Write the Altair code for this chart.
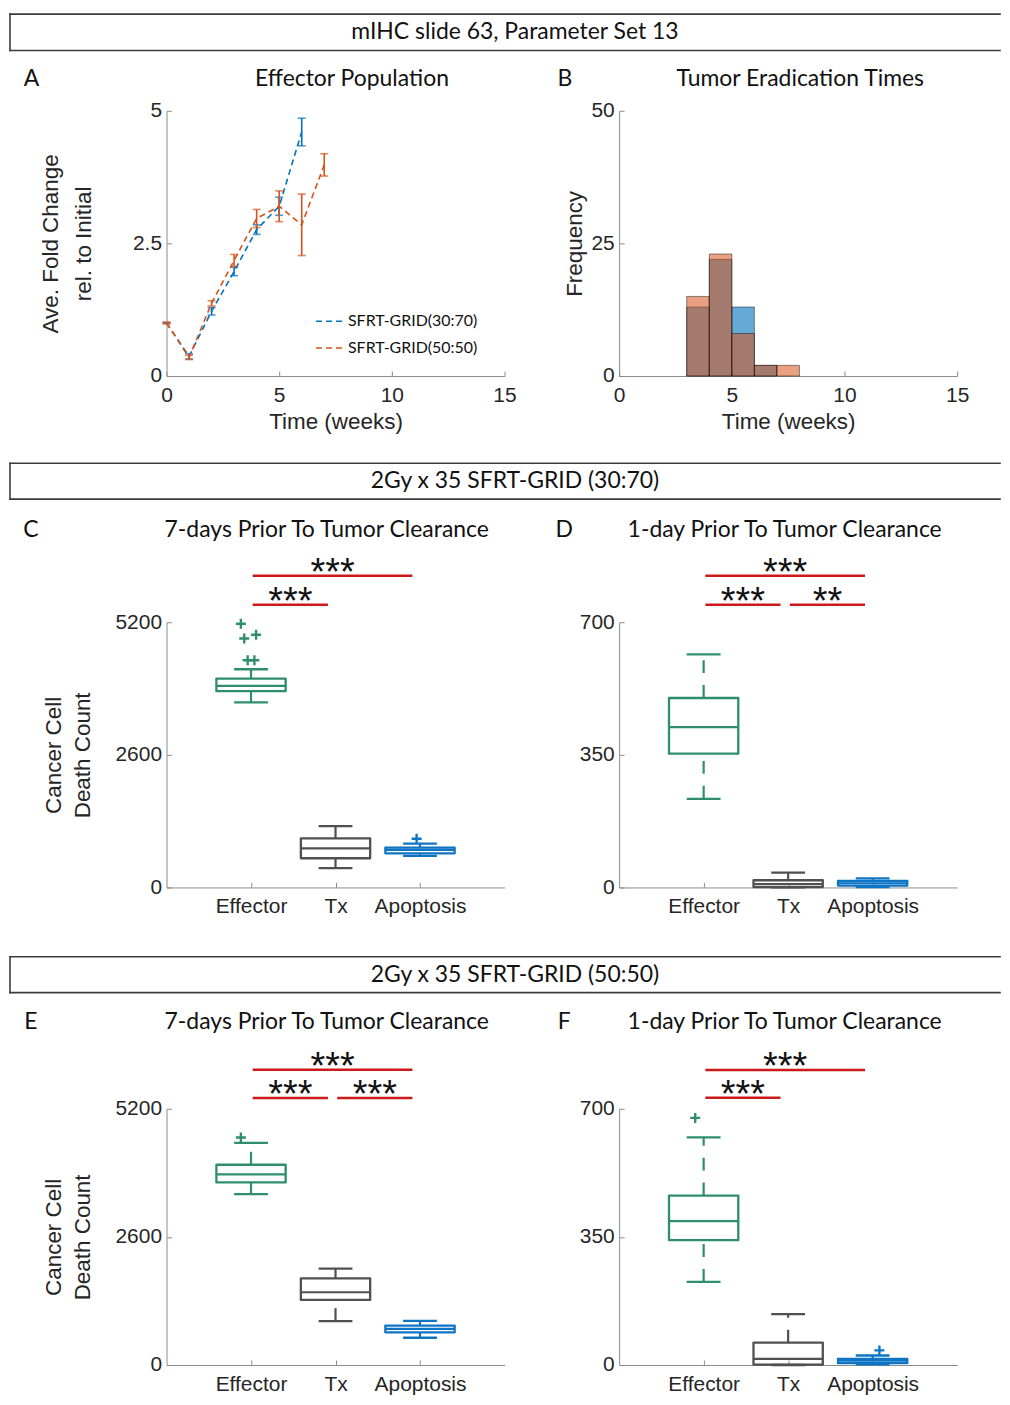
import altair as alt
import pandas as pd

# ---------------- data ----------------
header_texts = ["mIHC slide 63, Parameter Set 13",
                "2Gy x 35 SFRT-GRID (30:70)",
                "2Gy x 35 SFRT-GRID (50:50)"]

# Panel A: effector population (fold change rel. to initial)
series_names = ["SFRT-GRID(30:70)", "SFRT-GRID(50:50)"]
weeks_3070 = [0, 1, 2, 3, 4, 5, 6]
fold_3070 = [1.00, 0.37, 1.22, 1.97, 2.76, 3.20, 4.60]
err_3070 = [0.00, 0.05, 0.07, 0.08, 0.09, 0.17, 0.26]
weeks_5050 = [0, 1, 2, 3, 4, 5, 6, 7]
fold_5050 = [1.00, 0.35, 1.37, 2.18, 2.97, 3.20, 2.85, 3.98]
err_5050 = [0.02, 0.04, 0.05, 0.11, 0.17, 0.29, 0.58, 0.21]

# Panel B: tumor eradication times histogram
bin_edges = [3, 4, 5, 6, 7, 8]
freq_3070 = [13, 22, 13, 2, 0]
freq_5050 = [15, 23, 8, 2, 2]

# Box plots
categories = ["Effector", "Tx", "Apoptosis"]
cat_pos = [1, 2, 3]

# Panel C (30:70, 7 days prior)
c_lower = [3628, 377, 618]
c_q1 = [3849, 572, 670]
c_median = [3953, 767, 735]
c_q3 = [4096, 962, 780]
c_upper = [4278, 1203, 858]
c_out_cat = ["Effector", "Effector", "Effector", "Effector", "Effector", "Apoptosis"]
c_out_x = [0.88, 0.92, 1.06, 0.96, 1.04, 2.96]
c_out_val = [5170, 4880, 4955, 4455, 4455, 956]
c_sig_from = [1, 1]
c_sig_to = [2, 3]
c_sig_level = [5545, 6111]
c_sig_label = ["***", "***"]

# Panel D (30:70, 1 day prior)
d_lower = [234, 0, 1]
d_q1 = [353, 1, 5]
d_median = [423, 9, 11]
d_q3 = [500, 19, 17]
d_upper = [615, 39, 24]
d_out_cat = []
d_out_x = []
d_out_val = []
d_sig_from = [1, 2, 1]
d_sig_to = [2, 3, 3]
d_sig_level = [746, 746, 823]
d_sig_label = ["***", "**", "***"]

# Panel E (50:50, 7 days prior)
e_lower = [3466, 891, 553]
e_q1 = [3706, 1320, 663]
e_median = [3869, 1476, 735]
e_q3 = [4064, 1756, 800]
e_upper = [4506, 1957, 897]
e_out_cat = ["Effector"]
e_out_x = [0.88]
e_out_val = [4616]
e_sig_from = [1, 2, 1]
e_sig_to = [2, 3, 3]
e_sig_level = [5420, 5420, 5990]
e_sig_label = ["***", "***", "***"]

# Panel F (50:50, 1 day prior)
f_lower = [227, 0, 2]
f_q1 = [341, 1, 5]
f_median = [393, 17, 12]
f_q3 = [463, 61, 17]
f_upper = [622, 139, 26]
f_out_cat = ["Effector", "Apoptosis"]
f_out_x = [0.90, 3.08]
f_out_val = [675, 40]
f_sig_from = [1, 1]
f_sig_to = [2, 3]
f_sig_level = [730, 806]
f_sig_label = ["***", "***"]

# ---------------- styling ----------------
SANS = "Liberation Sans"
HUM = "Lato"
BLUE = "#0072BD"
ORANGE = "#D95319"
CAT_COLORS = {"Effector": "#2E8E6C", "Tx": "#505050", "Apoptosis": "#0E74C4"}
RED = "#CC1A1A"
TXT = "#111111"
AX = "#262626"
AXLINE = "#8C8C8C"
PW = 339
BOX_HALF = 0.41
CAP_HALF = 0.20
PLUS = "M-1,0H1M0,-1V1"
HL, HR = -158, 836          # header extent relative to the shared column origin
TFS = 23                    # title font size
EF_H = 257                  # plot height of the last row
LEFT_SP = (-158, 374)       # horizontal extent of left-column panels
RIGHT_SP = (-80, 382)       # horizontal extent of right-column panels

series_scale = alt.Scale(domain=series_names, range=[BLUE, ORANGE])


def one():
    return pd.DataFrame({"s": [0]})


def spacer(x0, x1, y0, y1):
    return alt.Chart(one()).mark_rect(opacity=0).encode(
        x=alt.value(x0), x2=alt.value(x1), y=alt.value(y0), y2=alt.value(y1))


def label_text(text, x, y, size, font=HUM):
    return alt.Chart(pd.DataFrame({"t": [text]})).mark_text(
        font=font, fontSize=size, align="center", baseline="middle", color=TXT
    ).encode(text="t:N", x=alt.value(x), y=alt.value(y))


def header(text, h, top, bottom):
    st = dict(color="#3C3C3C", strokeWidth=1.6, strokeCap="square")
    r_top = alt.Chart(one()).mark_rule(**st).encode(
        x=alt.value(HL + 1), x2=alt.value(HR), y=alt.value(top))
    r_bot = alt.Chart(one()).mark_rule(**st).encode(
        x=alt.value(HL + 1), x2=alt.value(HR), y=alt.value(bottom))
    r_left = alt.Chart(one()).mark_rule(**st).encode(
        x=alt.value(HL + 1), y=alt.value(top), y2=alt.value(bottom))
    return alt.layer(spacer(HL, HR, 0, h), r_top, r_bot, r_left,
                     label_text(text, 349.5, (top + bottom) / 2, TFS)
                     ).properties(width=HR, height=h)


# ---------------- panel A ----------------
df_a = pd.DataFrame({
    "series": [series_names[0]] * len(weeks_3070) + [series_names[1]] * len(weeks_5050),
    "week": weeks_3070 + weeks_5050,
    "fold": fold_3070 + fold_5050,
    "err": err_3070 + err_5050,
})
df_a["lo"] = df_a["fold"] - df_a["err"]
df_a["hi"] = df_a["fold"] + df_a["err"]

xsA = alt.Scale(domain=[0, 15], nice=False)
axA_x = alt.Axis(values=[0, 5, 10, 15], title="Time (weeks)")
ysA = alt.Scale(domain=[0, 5], nice=False)
axA_y = alt.Axis(values=[0, 2.5, 5], format=".2~g", title=["Ave. Fold Change", "rel. to Initial"],
                 titlePadding=37, titleLineHeight=33)
legA = alt.Legend(title=None, orient="none", legendX=157, legendY=203, symbolType="M-3,0H3",
                  symbolSize=100, symbolDash=[6, 4], symbolStrokeWidth=1.5, labelFont=HUM,
                  labelFontSize=16, labelColor=TXT, labelOffset=9, rowPadding=11, padding=0)

layersA = [spacer(*LEFT_SP, -54, 346)]
for s in series_names:
    base = alt.Chart(df_a).transform_filter(alt.datum.series == s)
    ex = alt.X("week:Q", scale=xsA, axis=axA_x)
    layersA.append(base.mark_line(strokeDash=[6, 4], strokeWidth=1.6).encode(
        x=ex, y=alt.Y("fold:Q", scale=ysA, axis=axA_y),
        color=alt.Color("series:N", scale=series_scale, legend=legA)))
    layersA.append(base.mark_rule(strokeWidth=1.6).encode(
        x=ex, y=alt.Y("lo:Q", scale=ysA, axis=axA_y), y2="hi:Q",
        color=alt.Color("series:N", scale=series_scale, legend=None)))
    for f in ["lo", "hi"]:
        layersA.append(base.mark_tick(orient="horizontal", size=8, thickness=1.6).encode(
            x=ex, y=alt.Y(f + ":Q", scale=ysA, axis=axA_y),
            color=alt.Color("series:N", scale=series_scale, legend=None)))
layersA.append(label_text("Effector Population", 186, -32, TFS))
layersA.append(label_text("A", -135.5, -32, TFS))
panel_a = alt.layer(*layersA).properties(width=PW, height=266)

# ---------------- panel B ----------------
df_b = pd.DataFrame({"start": bin_edges[:-1], "end": bin_edges[1:],
                     "f3070": freq_3070, "f5050": freq_5050})
xsB = alt.Scale(domain=[0, 15], nice=False)
axB_x = alt.Axis(values=[0, 5, 10, 15], title="Time (weeks)")
ysB = alt.Scale(domain=[0, 50], nice=False)
axB_y = alt.Axis(values=[0, 25, 50], title="Frequency", titlePadding=4)
layersB = [spacer(*RIGHT_SP, -54, 346)]
for f, col, op in [("f3070", BLUE, 0.6), ("f5050", ORANGE, 0.55)]:
    layersB.append(alt.Chart(df_b).transform_filter(f"datum.{f} > 0").mark_rect(
        fill=col, fillOpacity=op, stroke="#000000", strokeOpacity=0.45, strokeWidth=1
    ).encode(x=alt.X("start:Q", scale=xsB, axis=axB_x), x2="end:Q",
             y=alt.Y(f + ":Q", scale=ysB, axis=axB_y), y2=alt.datum(0)))
layersB.append(label_text("Tumor Eradication Times", 181.7, -32, TFS))
layersB.append(label_text("B", -54.3, -32, TFS))
panel_b = alt.layer(*layersB).properties(width=PW, height=266)


# ---------------- box panels ----------------
def box_panel(letter, title, lower, q1, med, q3, upper, out_cat, out_x, out_val,
              sig_from, sig_to, sig_level, sig_label, ymax, height, ytitle,
              sp, title_x, title_y, letter_x):
    st = pd.DataFrame({"cat": categories, "pos": cat_pos, "lower": lower, "q1": q1,
                       "med": med, "q3": q3, "upper": upper})
    st["col"] = st["cat"].map(CAT_COLORS)
    st["bx0"] = st["pos"] - BOX_HALF
    st["bx1"] = st["pos"] + BOX_HALF
    st["cx0"] = st["pos"] - CAP_HALF
    st["cx1"] = st["pos"] + CAP_HALF
    outl = pd.DataFrame({"ocat": out_cat, "ox": out_x, "oval": out_val})
    outl["col"] = outl["ocat"].map(CAT_COLORS)
    sig = pd.DataFrame({"a": sig_from, "b": sig_to, "level": sig_level, "label": sig_label})
    sig["x1"] = sig["a"] + 0.02
    sig["x2"] = sig["b"] - 0.09
    sig["mid"] = (sig["x1"] + sig["x2"]) / 2

    xs = alt.Scale(domain=[0, 4], nice=False, zero=False)
    lab = "['', " + ", ".join("'" + c + "'" for c in categories) + "][datum.value]"
    ax_x = alt.Axis(values=cat_pos, labelExpr=lab, title=None)
    ys = alt.Scale(domain=[0, ymax], nice=False)
    if ytitle:
        ax_y = alt.Axis(values=[0, ymax // 2, ymax], format="d", title=ytitle,
                        titlePadding=21, titleLineHeight=29)
    else:
        ax_y = alt.Axis(values=[0, ymax // 2, ymax], format="d", title=None)

    def X(f):
        return alt.X(f, scale=xs, axis=ax_x)

    def Y(f):
        return alt.Y(f, scale=ys, axis=ax_y)

    col = alt.Color("col:N", scale=None)
    b = alt.Chart(st)
    layers = [spacer(*sp)]
    layers.append(b.mark_rule(strokeDash=[13, 12], strokeWidth=2.2).encode(
        x=X("pos:Q"), y=Y("q3:Q"), y2="upper:Q", color=col))
    layers.append(b.mark_rule(strokeDash=[13, 12], strokeWidth=2.2).encode(
        x=X("pos:Q"), y=Y("lower:Q"), y2="q1:Q", color=col))
    layers.append(b.mark_rect(fillOpacity=0, strokeWidth=2.3, strokeJoin="round").encode(
        x=X("bx0:Q"), x2="bx1:Q", y=Y("q1:Q"), y2="q3:Q",
        stroke=alt.Stroke("col:N", scale=None)))
    layers.append(b.mark_rule(strokeWidth=2.2).encode(
        x=X("bx0:Q"), x2="bx1:Q", y=Y("med:Q"), color=col))
    for f in ["lower:Q", "upper:Q"]:
        layers.append(b.mark_rule(strokeWidth=2.3).encode(
            x=X("cx0:Q"), x2="cx1:Q", y=Y(f), color=col))
    if len(out_val):
        layers.append(alt.Chart(outl).mark_point(
            shape=PLUS, size=100, strokeWidth=2.4, filled=False, opacity=1
        ).encode(x=X("ox:Q"), y=Y("oval:Q"), color=col))
    sb = alt.Chart(sig)
    layers.append(sb.mark_rule(color=RED, strokeWidth=2.5).encode(
        x=X("x1:Q"), x2="x2:Q", y=Y("level:Q")))
    layers.append(sb.mark_text(font=SANS, fontSize=38, baseline="alphabetic", dy=9,
                               color=TXT).encode(x=X("mid:Q"), y=Y("level:Q"), text="label:N"))
    layers.append(label_text(title, title_x, title_y, TFS))
    layers.append(label_text(letter, letter_x, title_y, TFS))
    return alt.layer(*layers).properties(width=PW, height=height)


YT = ["Cancer Cell", "Death Count"]
TITLE7 = "7-days Prior To Tumor Clearance"
TITLE1 = "1-day Prior To Tumor Clearance"
panel_c = box_panel("C", TITLE7, c_lower, c_q1, c_median, c_q3, c_upper,
                    c_out_cat, c_out_x, c_out_val, c_sig_from, c_sig_to, c_sig_level, c_sig_label,
                    5200, 266, YT, (*LEFT_SP, -112, 328), 160.7, -92.7, -136)
panel_d = box_panel("D", TITLE1, d_lower, d_q1, d_median, d_q3, d_upper,
                    d_out_cat, d_out_x, d_out_val, d_sig_from, d_sig_to, d_sig_level, d_sig_label,
                    700, 266, None, (*RIGHT_SP, -112, 328), 166, -92.7, -55)
panel_e = box_panel("E", TITLE7, e_lower, e_q1, e_median, e_q3, e_upper,
                    e_out_cat, e_out_x, e_out_val, e_sig_from, e_sig_to, e_sig_level, e_sig_label,
                    5200, EF_H, YT, (*LEFT_SP, -107, EF_H + 31), 160.7, -86.7, -136)
panel_f = box_panel("F", TITLE1, f_lower, f_q1, f_median, f_q3, f_upper,
                    f_out_cat, f_out_x, f_out_val, f_sig_from, f_sig_to, f_sig_level, f_sig_label,
                    700, EF_H, None, (*RIGHT_SP, -107, EF_H + 31), 166, -86.7, -55)

row_ab = alt.hconcat(panel_a, panel_b, spacing=0).resolve_scale(
    color="independent").resolve_legend(color="independent")

chart = alt.vconcat(
    header(header_texts[0], 47, 4, 40.5),
    row_ab,
    header(header_texts[1], 55, 7.5, 43.5),
    alt.hconcat(panel_c, panel_d, spacing=0),
    header(header_texts[2], 53, 7.5, 43.5),
    alt.hconcat(panel_e, panel_f, spacing=0),
    spacing=0,
).resolve_scale(color="independent").resolve_legend(color="independent").properties(
    padding=0).configure_view(stroke=None).configure_axis(
    grid=False, domainColor=AXLINE, domainWidth=1, tickColor=AXLINE, tickWidth=1,
    tickSize={"expr": "-5"}, labelFont=SANS, labelFontSize=21, labelColor=AX,
    titleFont=SANS, titleFontSize=22.5, titleFontWeight="normal", titleColor=AX,
    labelFlush=False, labelOverlap=False
).configure_axisX(labelPadding=13.5, titlePadding=5).configure_axisY(labelPadding=10)

chart.save("out.html", embed_options={"renderer": "svg", "actions": False})
